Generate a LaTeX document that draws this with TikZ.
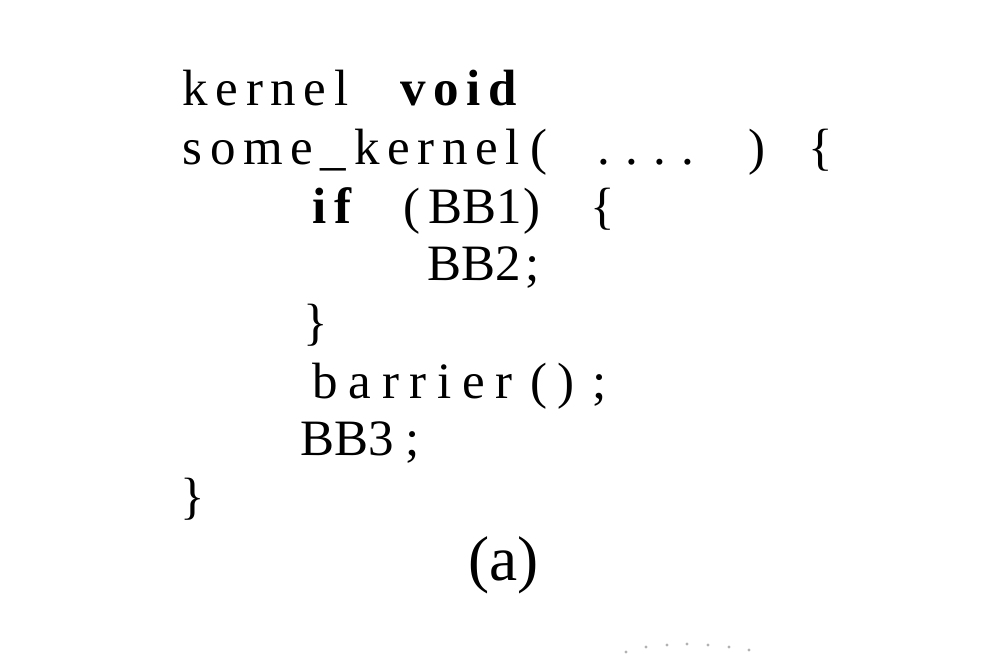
\documentclass[tikz,border=0pt]{standalone}
\usepackage{fontspec}
\setmainfont{Liberation Serif}
\newfontfamily\kernfont[LetterSpace=15]{Liberation Serif}
\newfontfamily\widefont[LetterSpace=21]{Liberation Serif}
\usetikzlibrary{positioning}

\begin{document}
\begin{tikzpicture}[x=0.01cm, y=-0.01cm,
    code/.style={anchor=base west, inner sep=0pt, font=\fontsize{14.5}{17}\selectfont},
    word/.style={code, font=\fontsize{14.5}{17}\kernfont},
    kw/.style={code, font=\fontsize{14.5}{17}\kernfont\bfseries},
    wide/.style={code, font=\fontsize{14.5}{17}\widefont}]
    \useasboundingbox (0,0) rectangle (1002,654);
    % line 1
    \node[word] (kernel) at (182,105) {kernel};
    \node[kw] (void) at (400,105) {void};
    % line 2
    \node[word] (name) at (182,164) {some\_kernel};
    \node[code] (lpar) at (530,164) {(};
    \node[code] (args) at (597,164) {.\kern4.3pt.\kern4.3pt.\kern4.3pt.};
    \node[code] (rpar) at (748,164) {)};
    \node[code] (open) at (808,164) {\{};
    % if block
    \node[kw] (if) at (312,223) {if};
    \node[code] (cl) at (403,223) {(};
    \node[code] (cond) at (428,223) {BB1};
    \node[code] (cr) at (523,223) {)};
    \node[code] (ifopen) at (590,223) {\{};
    \node[code] (bbtwo) at (427,280) {BB2};
    \node[code] (semitwo) at (525,280) {;};
    \node[code] (ifclose) at (303,339) {\}};
    % barrier
    \node[wide] (barrier) at (312,398) {barrier};
    \node[code] (bl) at (530,398) {(};
    \node[code] (br) at (557,398) {)};
    \node[code] (bsemi) at (592,398) {;};
    \node[code] (bbthree) at (300,455) {BB3};
    \node[code] (semithree) at (405,455) {;};
    \node[code] (kclose) at (180,513) {\}};
    \node[anchor=base west, inner sep=0pt, font=\fontsize{18}{20}\selectfont] (caption) at (468,580) {(a)};
    % dotted arc at the bottom
    \foreach \px/\py in {626/652, 646/647, 667/645, 687/644, 708/645, 729/647, 749/650}
        \fill[gray!60] (\px,\py) circle (1.6);
\end{tikzpicture}
\end{document}
